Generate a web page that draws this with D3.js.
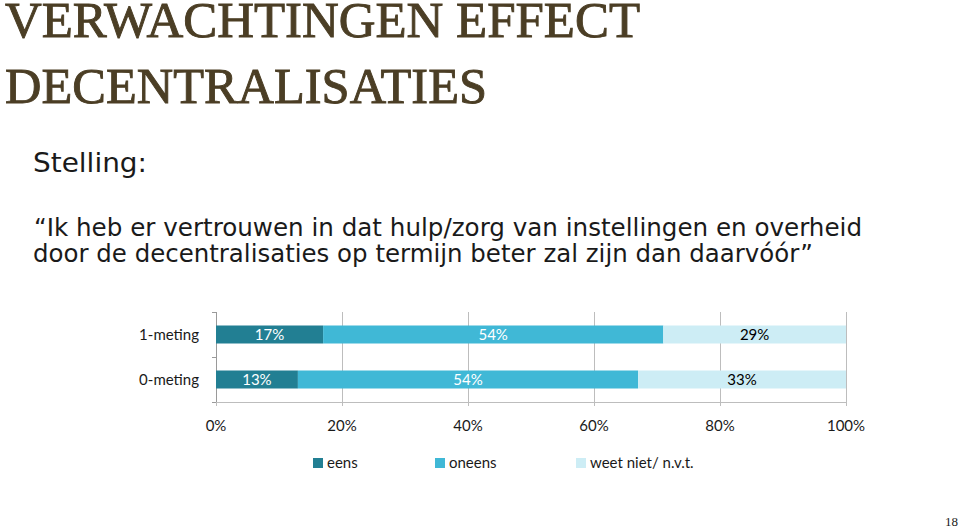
<!DOCTYPE html>
<html><head><meta charset="utf-8">
<script src="https://cdn.jsdelivr.net/npm/d3@7"></script>
<style>body{margin:0;background:#fff}svg{display:block}</style>
</head><body>
<script>
const categories = ["1-meting", "0-meting"];
const seriesNames = ["eens", "oneens", "weet niet/ n.v.t."];
const eens = [17, 13];
const oneens = [54, 54];
const weetNiet = [29, 33];
const tickValues = [0, 20, 40, 60, 80, 100];
const colors = ["#227f93", "#40b8d6", "#cdedf5"];
const labelColors = ["#ffffff", "#ffffff", "#000000"];

const W = 960, H = 529;
const svg = d3.select("body").append("svg").attr("width", W).attr("height", H);

// Title
const titleColor = "#4b3e25";
svg.append("text").attr("x", 5).attr("y", 37).attr("font-family", "Liberation Serif")
  .attr("font-size", 50).attr("fill", titleColor).attr("stroke", titleColor).attr("stroke-width", 0.9)
  .attr("textLength", 635).attr("lengthAdjust", "spacingAndGlyphs").text("VERWACHTINGEN EFFECT");
svg.append("text").attr("x", 5).attr("y", 103).attr("font-family", "Liberation Serif")
  .attr("font-size", 50).attr("fill", titleColor).attr("stroke", titleColor).attr("stroke-width", 0.9)
  .attr("textLength", 482).attr("lengthAdjust", "spacingAndGlyphs").text("DECENTRALISATIES");

svg.append("text").attr("x", 33).attr("y", 172).attr("font-family", "DejaVu Sans")
  .attr("font-size", 27).attr("fill", "#1a1a1a")
  .attr("textLength", 114).attr("lengthAdjust", "spacingAndGlyphs").text("Stelling:");
svg.append("text").attr("x", 34).attr("y", 236).attr("font-family", "DejaVu Sans")
  .attr("font-size", 24.5).attr("fill", "#1a1a1a")
  .attr("textLength", 828).attr("lengthAdjust", "spacingAndGlyphs")
  .text("\u201CIk heb er vertrouwen in dat hulp/zorg van instellingen en overheid");
svg.append("text").attr("x", 33).attr("y", 262).attr("font-family", "DejaVu Sans")
  .attr("font-size", 24.5).attr("fill", "#1a1a1a")
  .attr("textLength", 780).attr("lengthAdjust", "spacingAndGlyphs")
  .text("door de decentralisaties op termijn beter zal zijn dan daarv\u00F3\u00F3r\u201D");

// Chart
const plot = {left: 216, right: 846, top: 312, bottom: 402};
const x = d3.scaleLinear().domain([0, 100]).range([plot.left, plot.right]);
const y = d3.scaleBand().domain(categories).range([plot.top, plot.bottom]).paddingInner(0.6).paddingOuter(0.3);

const font = "Lato, 'Open Sans', sans-serif";

// gridlines
svg.append("g").selectAll("line").data(tickValues.slice(1)).join("line")
  .attr("x1", d => x(d)).attr("x2", d => x(d)).attr("y1", plot.top).attr("y2", plot.bottom + 4)
  .attr("stroke", "#bdbdbd").attr("stroke-width", 1).attr("shape-rendering", "crispEdges");
// bottom axis line
svg.append("line").attr("x1", plot.left).attr("x2", plot.right).attr("y1", plot.bottom).attr("y2", plot.bottom)
  .attr("stroke", "#bdbdbd").attr("shape-rendering", "crispEdges");
svg.append("line").attr("x1", plot.left).attr("x2", plot.left).attr("y1", plot.bottom).attr("y2", plot.bottom + 4)
  .attr("stroke", "#bdbdbd").attr("shape-rendering", "crispEdges");
// left axis
svg.append("line").attr("x1", plot.left).attr("x2", plot.left).attr("y1", plot.top).attr("y2", plot.bottom)
  .attr("stroke", "#9a9a9a").attr("shape-rendering", "crispEdges");
const leftTicks = [plot.top, (plot.top + plot.bottom) / 2, plot.bottom];
svg.append("g").selectAll("line").data(leftTicks).join("line")
  .attr("x1", plot.left - 4).attr("x2", plot.left).attr("y1", d => d).attr("y2", d => d)
  .attr("stroke", "#9a9a9a").attr("shape-rendering", "crispEdges");

// stacked data
const rows = categories.map((c, i) => ({cat: c, eens: eens[i], oneens: oneens[i], weet: weetNiet[i]}));
const stack = d3.stack().keys(["eens", "oneens", "weet"])(rows);

stack.forEach((layer, li) => {
  const g = svg.append("g");
  g.selectAll("rect").data(layer).join("rect")
    .attr("x", d => x(d[0])).attr("width", d => x(d[1]) - x(d[0]))
    .attr("y", d => y(d.data.cat)).attr("height", y.bandwidth())
    .attr("fill", colors[li]);
  g.selectAll("text").data(layer).join("text")
    .attr("x", d => (x(d[0]) + x(d[1])) / 2).attr("y", d => y(d.data.cat) + y.bandwidth() / 2)
    .attr("dy", "0.36em").attr("text-anchor", "middle")
    .attr("font-family", font).attr("font-size", 15).attr("fill", labelColors[li])
    .text(d => (d[1] - d[0]) + "%");
});

// category labels
svg.append("g").selectAll("text").data(categories).join("text")
  .attr("x", 199).attr("y", d => y(d) + y.bandwidth() / 2).attr("dy", "0.36em")
  .attr("text-anchor", "end").attr("font-family", font).attr("font-size", 15).attr("fill", "#1a1a1a")
  .text(d => d);

// x tick labels
svg.append("g").selectAll("text").data(tickValues).join("text")
  .attr("x", d => x(d)).attr("y", 426).attr("dy", "0.36em").attr("text-anchor", "middle")
  .attr("font-family", font).attr("font-size", 15).attr("fill", "#1a1a1a")
  .text(d => d + "%");

// legend
const legX = [313, 435, 576];
const leg = svg.append("g").selectAll("g").data(seriesNames).join("g")
  .attr("transform", (d, i) => `translate(${legX[i]},463)`);
leg.append("rect").attr("x", 0).attr("y", -5).attr("width", 10).attr("height", 10)
  .attr("fill", (d, i) => colors[i]);
leg.append("text").attr("x", 14).attr("y", 0).attr("dy", "0.36em")
  .attr("font-family", font).attr("font-size", 15).attr("fill", "#1a1a1a").text(d => d);

// page number
svg.append("text").attr("x", 958).attr("y", 526).attr("text-anchor", "end")
  .attr("font-family", "Liberation Serif").attr("font-size", 13).attr("fill", "#1a1a1a").text("18");
</script>
</body></html>
